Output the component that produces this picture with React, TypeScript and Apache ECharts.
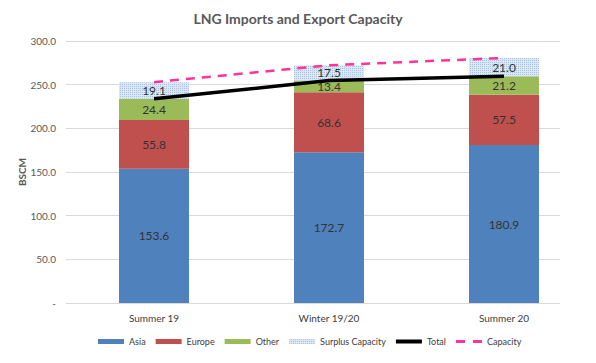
import React, { useEffect, useRef } from "react";
import * as echarts from "echarts";

const categories = ["Summer 19", "Winter 19/20", "Summer 20"];
const asia = [153.6, 172.7, 180.9];
const europe = [55.8, 68.6, 57.5];
const other = [24.4, 13.4, 21.2];
const surplus = [19.1, 17.5, 21.0];
const total = [233.8, 254.7, 259.6];
const capacity = [252.9, 272.2, 280.6];

const FONT = "Lato";

export default function App() {
  const ref = useRef<HTMLDivElement>(null);
  useEffect(() => {
    if (!ref.current) return;
    const chart = echarts.init(ref.current, undefined, { renderer: "svg" });
    const label = {
      show: true,
      position: "inside",
      color: "#333333",
      fontSize: 12,
      fontFamily: FONT,
      formatter: (p: any) => Number(p.value).toFixed(1),
    };
    const bar = (name: string, data: number[], itemStyle: any) => ({
      name,
      type: "bar",
      stack: "s",
      xAxisIndex: 0,
      yAxisIndex: 0,
      barWidth: 70,
      data,
      itemStyle,
      label,
    });
    chart.setOption({
      animation: false,
      textStyle: { fontFamily: FONT },
      title: {
        text: "LNG Imports and Export Capacity",
        left: "center",
        top: 6,
        textStyle: { fontSize: 14, fontWeight: "bold", color: "#595959", fontFamily: FONT },
      },
      grid: [
        { left: 66.5, right: 4.5, top: 41, bottom: 60 },
        { left: 66, right: 36, top: 41, bottom: 60 },
      ],
      xAxis: [
        {
          type: "category",
          gridIndex: 0,
          data: categories,
          axisLine: { show: false },
          axisTick: { show: false },
          axisLabel: { fontSize: 10, color: "#404040", margin: 10, fontFamily: FONT },
        },
        { type: "category", gridIndex: 1, data: categories, show: false },
      ],
      yAxis: [
        { type: "value", gridIndex: 0, min: 0, max: 300, interval: 50, show: false, splitLine: { show: false } },
        {
          type: "value",
          gridIndex: 1,
          min: 0,
          max: 300,
          interval: 50,
          name: "BSCM",
          nameLocation: "middle",
          nameGap: 39,
          nameMoveOverlap: false,
          nameTextStyle: { fontSize: 10, fontWeight: "bold", color: "#595959", fontFamily: FONT },
          axisLine: { show: false },
          axisTick: { show: false },
          axisLabel: {
            fontSize: 10,
            color: "#595959",
            margin: 10,
            fontFamily: FONT,
            formatter: (v: number) => (v === 0 ? "-" : v.toFixed(1)),
          },
          splitLine: { lineStyle: { color: "#d9d9d9", width: 1 } },
        },
      ],
      legend: {
        bottom: 12,
        left: 93,
        itemGap: 10,
        itemWidth: 26,
        itemHeight: 5,
        textStyle: { fontSize: 9, color: "#404040", fontFamily: FONT },
        data: [
          { name: "Asia", icon: "rect" },
          { name: "Europe", icon: "rect" },
          { name: "Other", icon: "rect" },
          { name: "Surplus Capacity", icon: "rect" },
          { name: "Total", icon: "path://M0,0L0,0M0,0.5H26V4.5H0ZM26,5L26,5" },
          { name: "Capacity", icon: "path://M0,0L0,0M0,1H9V4H0ZM17,1H26V4H17ZM26,5L26,5" },
        ],
      },
      series: [
        bar("Asia", asia, { color: "#4f81bd" }),
        bar("Europe", europe, { color: "#c0504d" }),
        bar("Other", other, { color: "#9bbb59" }),
        bar("Surplus Capacity", surplus, {
          color: "#dde7f3",
          decal: {
            symbol: "rect",
            symbolSize: 1,
            color: "rgba(150,180,220,0.7)",
            dashArrayX: [1, 1],
            dashArrayY: [1, 1],
            rotation: 0,
          },
        }),
        {
          name: "Total",
          type: "line",
          xAxisIndex: 0,
          yAxisIndex: 0,
          data: total,
          symbol: "none",
          lineStyle: { color: "#000000", width: 3.5 },
          itemStyle: { color: "#000000" },
          z: 5,
        },
        {
          name: "Capacity",
          type: "line",
          xAxisIndex: 0,
          yAxisIndex: 0,
          data: capacity,
          symbol: "none",
          lineStyle: { color: "#ff3399", width: 2.5, type: [9, 7] },
          itemStyle: { color: "#ff3399" },
          z: 5,
        },
      ],
    });
    return () => chart.dispose();
  }, []);
  return <div ref={ref} style={{ width: 596, height: 363, margin: -8 }} />;
}
